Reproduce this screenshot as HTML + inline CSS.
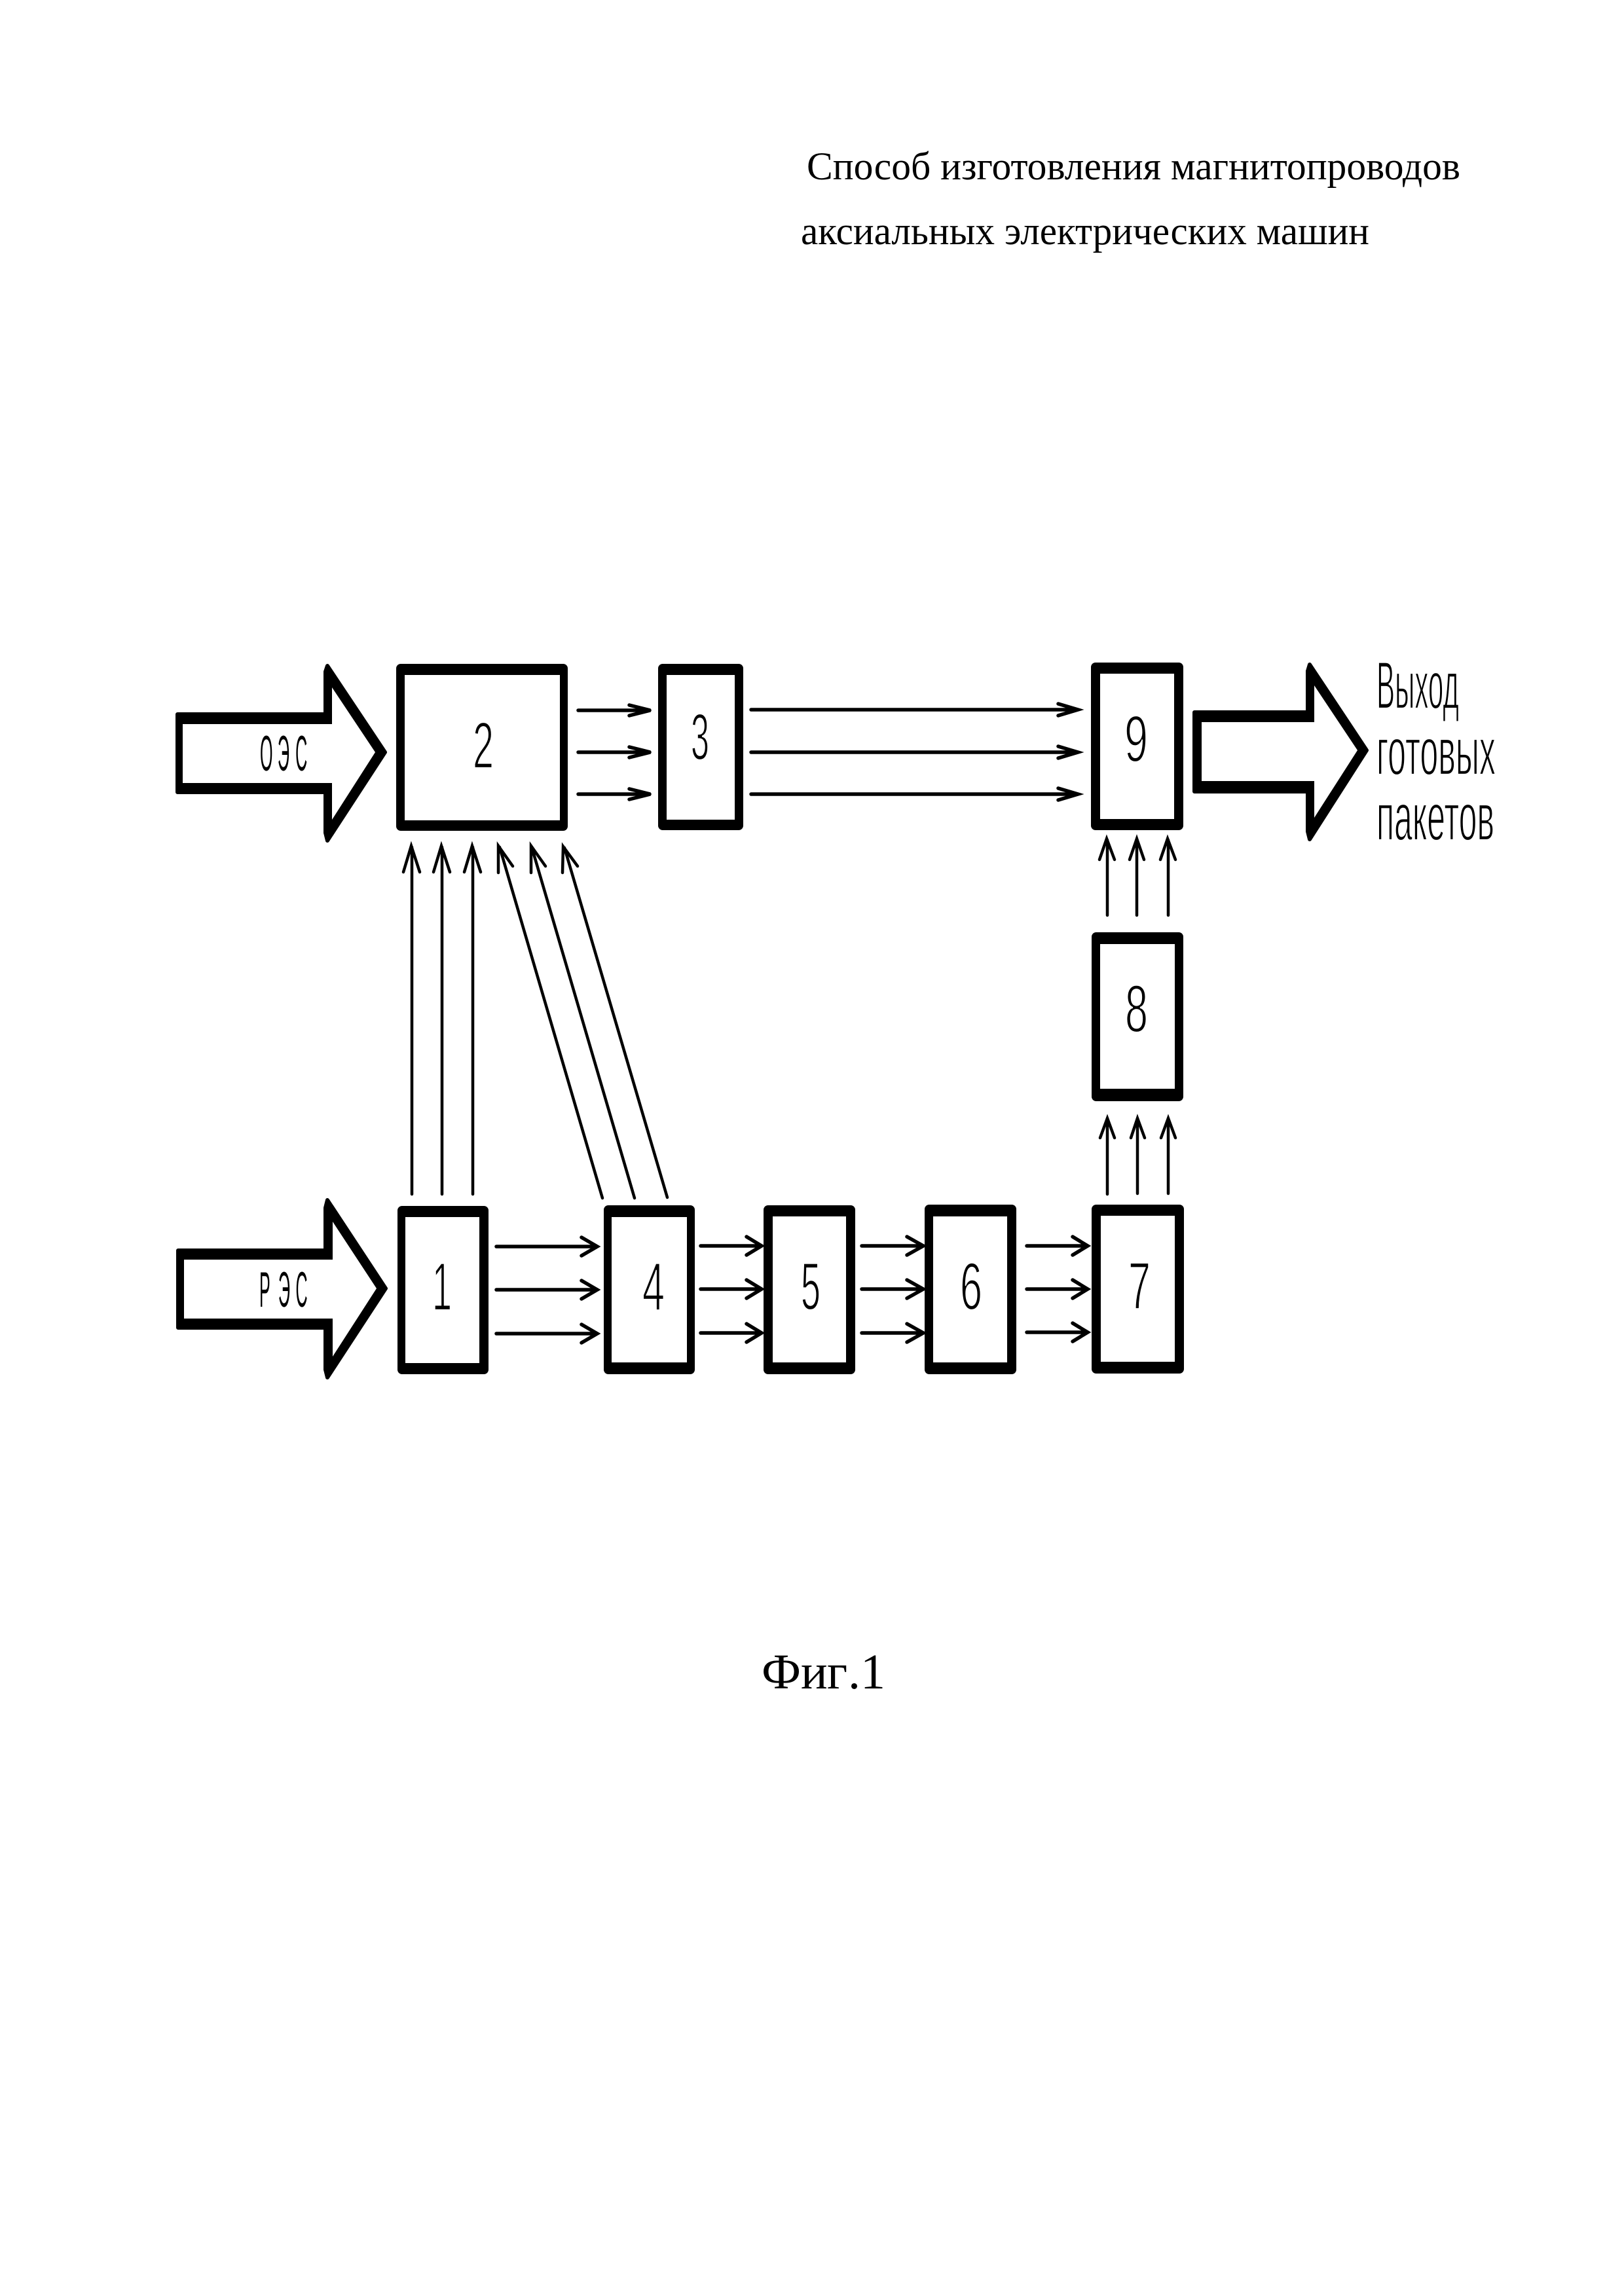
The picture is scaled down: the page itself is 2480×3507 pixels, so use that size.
<!DOCTYPE html>
<html lang="ru">
<head>
<meta charset="utf-8">
<title>Фиг.1</title>
<style>
html,body{margin:0;padding:0;background:#fff;width:2480px;height:3507px;overflow:hidden}
svg{display:block}
.serif{font-family:"Liberation Serif","DejaVu Serif",serif;fill:#000}
.sans{font-family:"Liberation Sans","DejaVu Sans",sans-serif;fill:#000;stroke:#fff;stroke-width:2.2}
.thin{font-family:"Liberation Sans","DejaVu Sans",sans-serif;fill:#000}
</style>
</head>
<body>
<svg width="2480" height="3507" viewBox="0 0 2480 3507" xmlns="http://www.w3.org/2000/svg">
<rect width="2480" height="3507" fill="#fff"/>

<!-- Title -->
<text class="serif" x="1232" y="274" font-size="60" textLength="998" lengthAdjust="spacingAndGlyphs">Способ изготовления магнитопроводов</text>
<text class="serif" x="1223" y="373" font-size="60" textLength="868" lengthAdjust="spacingAndGlyphs">аксиальных электрических машин</text>

<!-- Big arrows -->
<g fill="#000" stroke="#000" stroke-width="6" stroke-linejoin="round">
<polygon points="271,1091 497,1091 497,1026 500,1017 588,1149 500,1284 497,1272 497,1210 271,1210"/>
<polygon points="272,1910 497,1910 497,1845 500,1833 589,1968 500,2104 497,2092 497,2028 272,2028"/>
<polygon points="1824,1088 1997,1088 1997,1025 2000,1015 2087,1146 2000,1282 1997,1270 1997,1209 1824,1209"/>
</g>
<g fill="#fff">
<polygon points="279,1106 507,1106 507,1050 573,1149 507,1252 507,1196 279,1196"/>
<polygon points="281,1924 508,1924 508,1866 575,1968 508,2072 508,2014 281,2014"/>
<polygon points="1835,1103 2007,1103 2007,1047 2073,1146 2007,1249 2007,1193 1835,1193"/>
</g>

<!-- Boxes -->
<g fill="#000">
<rect x="605" y="1014" width="262" height="255" rx="7"/>
<rect x="1005" y="1014" width="130" height="254" rx="7"/>
<rect x="1666" y="1012" width="141" height="256" rx="7"/>
<rect x="1667" y="1424" width="140" height="258" rx="7"/>
<rect x="607" y="1842" width="139" height="257" rx="7"/>
<rect x="922" y="1841" width="139" height="258" rx="7"/>
<rect x="1166" y="1841" width="140" height="258" rx="7"/>
<rect x="1412" y="1840" width="140" height="259" rx="7"/>
<rect x="1667" y="1840" width="141" height="258" rx="7"/>
</g>
<g fill="#fff">
<rect x="618" y="1031" width="237" height="222"/>
<rect x="1018" y="1031" width="104" height="221"/>
<rect x="1680" y="1029" width="113" height="222"/>
<rect x="1680" y="1442" width="114" height="221"/>
<rect x="619" y="1859" width="113" height="223"/>
<rect x="934" y="1859" width="115" height="222"/>
<rect x="1180" y="1858" width="112" height="223"/>
<rect x="1425" y="1858" width="113" height="223"/>
<rect x="1681" y="1857" width="113" height="223"/>
</g>

<!-- Horizontal arrows -->
<g fill="none" stroke="#000" stroke-width="5.5" stroke-linecap="round" stroke-linejoin="miter">
<path d="M883 1085H992M961 1077L993 1085L961 1093"/>
<path d="M883 1149H992M961 1141L993 1149L961 1157"/>
<path d="M883 1213H992M961 1205L993 1213L961 1221"/>
<path d="M1147 1084H1645M1616 1075L1646 1084L1616 1093"/>
<path d="M1147 1149H1645M1616 1140L1646 1149L1616 1158"/>
<path d="M1147 1213H1645M1616 1204L1646 1213L1616 1222"/>
<path d="M758 1904H912M888 1890L912 1904L888 1918"/>
<path d="M758 1970H912M888 1956L912 1970L888 1984"/>
<path d="M758 2037H912M888 2023L912 2037L888 2051"/>
<path d="M1070 1903H1163M1140 1889L1163 1903L1140 1917"/>
<path d="M1070 1969H1163M1140 1955L1163 1969L1140 1983"/>
<path d="M1070 2036H1163M1140 2022L1163 2036L1140 2050"/>
<path d="M1316 1903H1410M1385 1889L1410 1903L1385 1917"/>
<path d="M1316 1969H1410M1385 1955L1410 1969L1385 1983"/>
<path d="M1316 2036H1410M1385 2022L1410 2036L1385 2050"/>
<path d="M1568 1903H1661M1638 1889L1661 1903L1638 1917"/>
<path d="M1568 1969H1661M1638 1955L1661 1969L1638 1983"/>
<path d="M1568 2035H1661M1638 2021L1661 2035L1638 2049"/>
</g>

<!-- Vertical and diagonal arrows -->
<g fill="none" stroke="#000" stroke-width="4.5" stroke-linecap="round" stroke-linejoin="miter">
<path d="M629 1824V1294M616 1332L628 1292L641 1332"/>
<path d="M675 1824V1294M662 1332L674 1292L687 1332"/>
<path d="M722 1824V1294M709 1332L721 1292L734 1332"/>
<path d="M920 1830L763 1294M761 1333L761 1292L783 1323"/>
<path d="M969 1830L812 1294M811 1333L811 1292L833 1323"/>
<path d="M1019 1829L862 1295M859 1333L860 1293L882 1323"/>
<path d="M1691 1398V1283M1679 1313L1690 1281L1702 1313"/>
<path d="M1736 1398V1283M1725 1313L1736 1281L1747 1313"/>
<path d="M1784 1398V1283M1772 1313L1783 1281L1795 1313"/>
<path d="M1691 1824V1710M1680 1738L1691 1708L1702 1738"/>
<path d="M1737 1823V1710M1727 1738L1737 1708L1748 1738"/>
<path d="M1784 1823V1710M1773 1738L1784 1708L1795 1738"/>
</g>

<!-- Block numbers and labels -->
<text class="sans" x="722" y="1173" font-size="100" textLength="32" lengthAdjust="spacingAndGlyphs">2</text>
<text class="sans" x="1055" y="1160" font-size="100" textLength="28" lengthAdjust="spacingAndGlyphs">3</text>
<text class="sans" x="1717" y="1163" font-size="100" textLength="36" lengthAdjust="spacingAndGlyphs">9</text>
<text class="sans" x="1718" y="1576" font-size="102" textLength="35" lengthAdjust="spacingAndGlyphs">8</text>
<text class="sans" x="660" y="2001" font-size="104" textLength="30" lengthAdjust="spacingAndGlyphs">1</text>
<text class="sans" x="981" y="2001" font-size="104" textLength="34" lengthAdjust="spacingAndGlyphs">4</text>
<text class="sans" x="1223" y="2000" font-size="102" textLength="30" lengthAdjust="spacingAndGlyphs">5</text>
<text class="sans" x="1466" y="2000" font-size="102" textLength="34" lengthAdjust="spacingAndGlyphs">6</text>
<text class="sans" x="1723" y="1999" font-size="102" textLength="34" lengthAdjust="spacingAndGlyphs">7</text>

<text class="thin" transform="translate(397,1177) scale(0.33,1)" x="0 82 164" y="0" font-size="76">ОЭС</text>
<text class="thin" transform="translate(396,1996) scale(0.33,1)" x="0 88 168" y="0" font-size="76">РЭС</text>

<text class="sans" x="2102" y="1082" font-size="102" textLength="126" lengthAdjust="spacingAndGlyphs">Выход</text>
<text class="sans" x="2102" y="1183" font-size="102" textLength="182" lengthAdjust="spacingAndGlyphs">готовых</text>
<text class="sans" x="2102" y="1283" font-size="102" textLength="180" lengthAdjust="spacingAndGlyphs">пакетов</text>

<!-- Caption -->
<text class="serif" x="1163 1223 1263 1295 1314" y="2579" font-size="76">Фиг.1</text>
</svg>
</body>
</html>
